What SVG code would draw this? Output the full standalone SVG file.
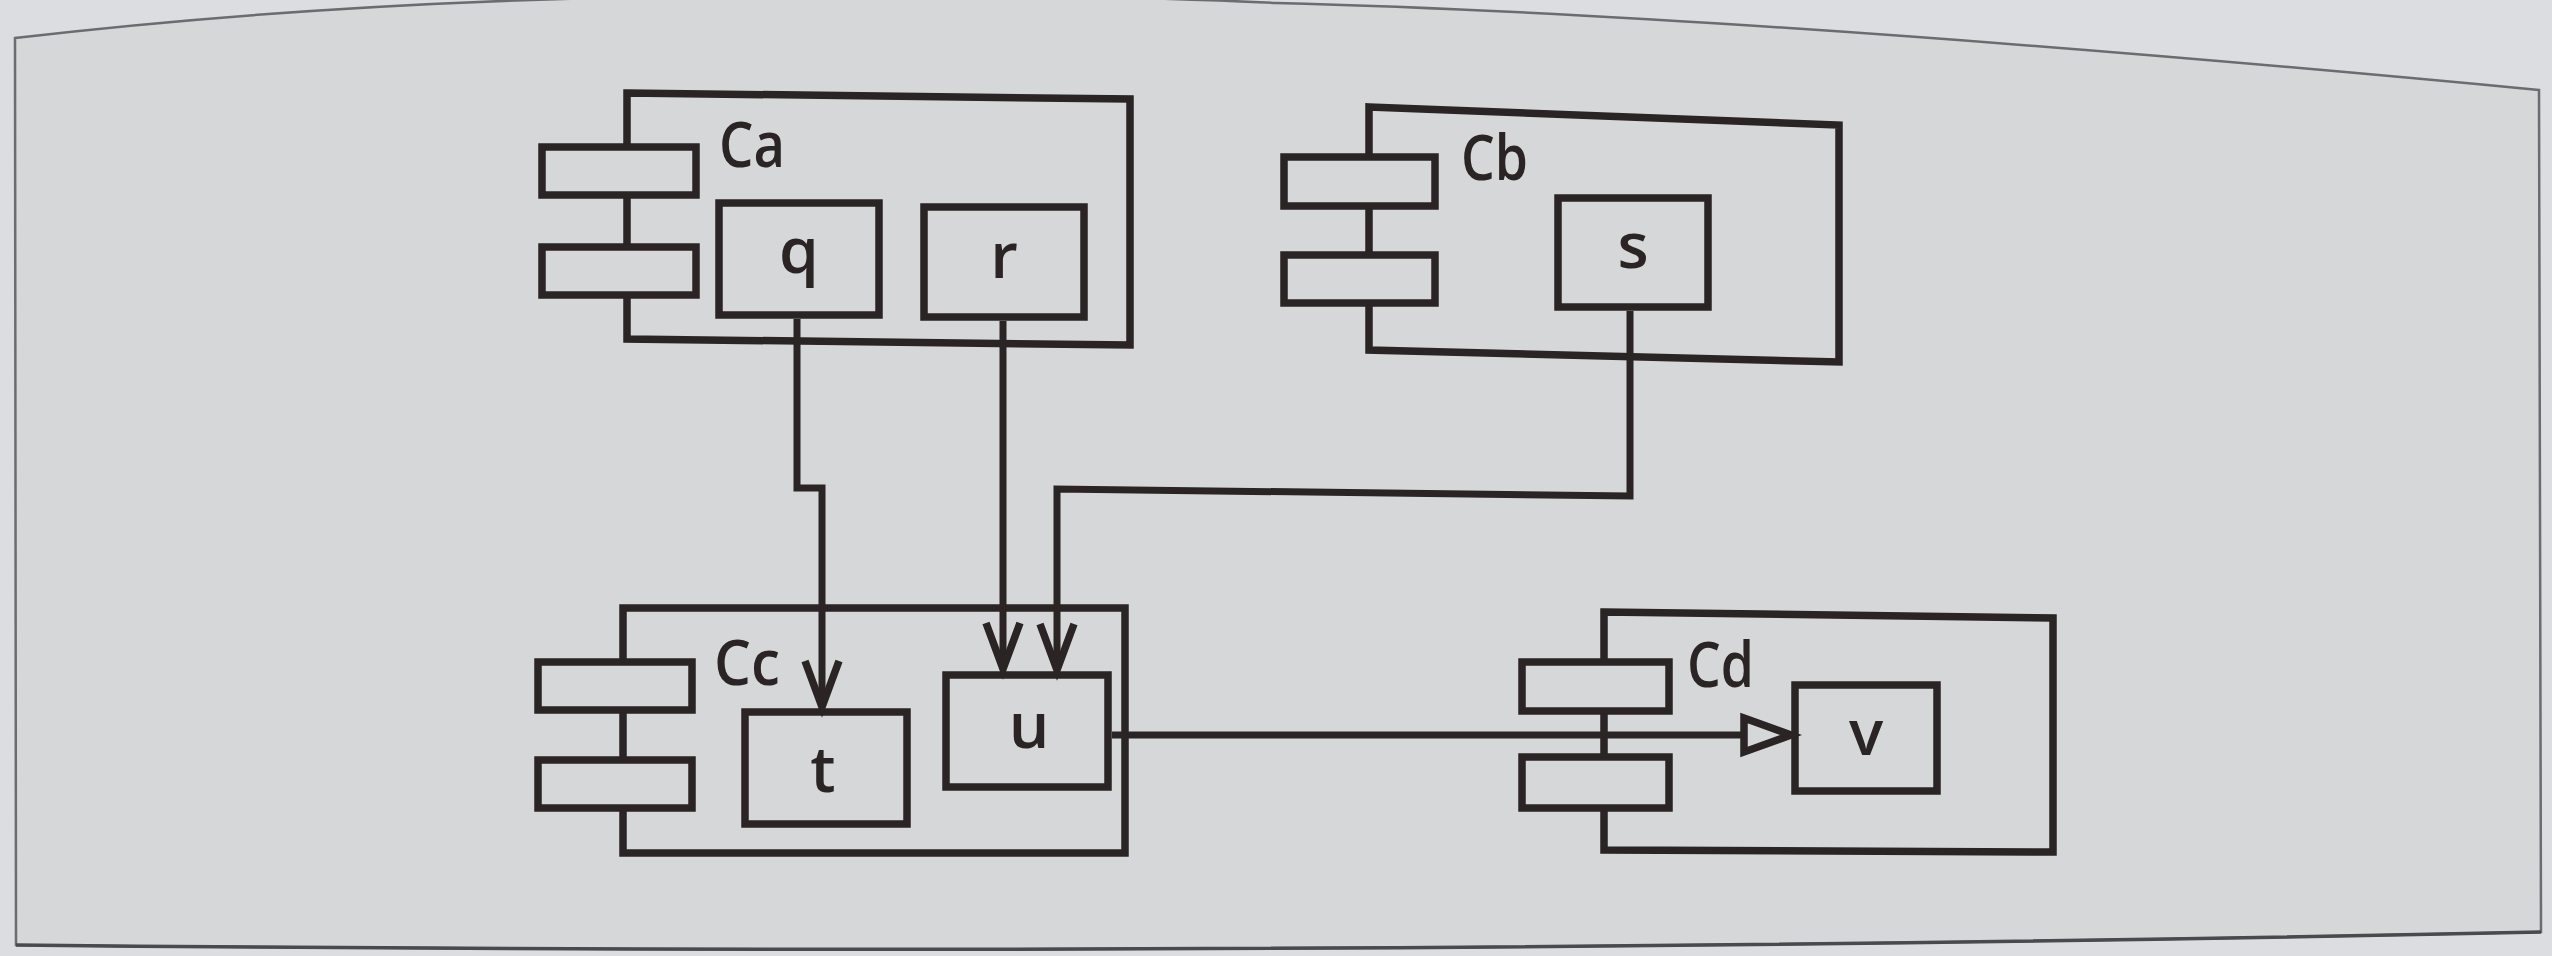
<svg xmlns="http://www.w3.org/2000/svg" width="2552" height="956" viewBox="0 0 2552 956">
  <style>
    .box { fill: none; stroke: #2a2424; stroke-width: 7.5; stroke-linejoin: miter; }
    .port { fill: #d6d7d9; stroke: #2a2424; stroke-width: 7.5; }
    .conn { fill: none; stroke: #2a2424; stroke-width: 7; stroke-linejoin: miter; }
    .name { font-family: "Open Sans", "Noto Sans", "Liberation Sans", sans-serif; font-size: 63px; font-weight: 600; fill: #2a2424; }
    .lbl { font-family: "Open Sans", "Noto Sans", "Liberation Sans", sans-serif; font-size: 64px; font-weight: 600; fill: #2a2424; text-anchor: middle; }
  </style>
  <defs>
    <marker id="open" markerUnits="userSpaceOnUse" viewBox="-55 -25 60 50" markerWidth="60" markerHeight="50" refX="0" refY="0" orient="auto" overflow="visible">
      <path d="M -46 -17 L 0 0 L -46 17" fill="none" stroke="#2a2424" stroke-width="7.5" stroke-linejoin="miter"/>
    </marker>
    <marker id="tri" markerUnits="userSpaceOnUse" viewBox="-55 -25 60 50" markerWidth="60" markerHeight="50" refX="0" refY="0" orient="auto" overflow="visible">
      <path d="M -47 -17 L 0 0 L -47 17 Z" fill="#d6d7d9" stroke="#2a2424" stroke-width="7.5" stroke-linejoin="miter"/>
    </marker>
  </defs>

  <rect x="0" y="0" width="2552" height="956" fill="#dcdde0"/>
  <path d="M 15 38 Q 300 5 600 -2 Q 1000 -10 1276 3 Q 1750 15 2539 90 L 2541 932 Q 1300 958 16 945 Z" fill="#d6d7d9" stroke="#6b6b70" stroke-width="2.5"/>
  <path d="M 2541 932 Q 1300 958 16 945" fill="none" stroke="#4a4a4e" stroke-width="3.5"/>

  <g id="Ca">
    <path class="box" d="M 627 93 L 1130 99 L 1130 345 L 627 339 Z"/>
    <rect class="port" x="542" y="147" width="154" height="48"/>
    <rect class="port" x="542" y="247" width="154" height="48"/>
    <text class="name" x="719" y="167" textLength="66" lengthAdjust="spacingAndGlyphs">Ca</text>
  </g>
  <g id="q">
    <rect class="box" x="719" y="203" width="160" height="112"/>
    <text class="lbl" x="799" y="273">q</text>
  </g>
  <g id="r">
    <rect class="box" x="924" y="207" width="160" height="110"/>
    <text class="lbl" x="1004" y="278">r</text>
  </g>

  <g id="Cb">
    <path class="box" d="M 1369 107 L 1839 125 L 1839 362 L 1369 350 Z"/>
    <rect class="port" x="1284" y="157" width="151" height="49"/>
    <rect class="port" x="1284" y="255" width="151" height="48"/>
    <text class="name" x="1461" y="180" textLength="67" lengthAdjust="spacingAndGlyphs">Cb</text>
  </g>
  <g id="s">
    <rect class="box" x="1558" y="198" width="150" height="109"/>
    <text class="lbl" x="1633" y="268">s</text>
  </g>

  <g id="Cc">
    <rect class="box" x="623" y="608" width="502" height="245"/>
    <rect class="port" x="538" y="662" width="154" height="48"/>
    <rect class="port" x="538" y="760" width="154" height="48"/>
    <text class="name" x="714" y="685" textLength="66" lengthAdjust="spacingAndGlyphs">Cc</text>
  </g>
  <g id="t">
    <rect class="box" x="745" y="712" width="162" height="112"/>
    <text class="lbl" x="823" y="792">t</text>
  </g>
  <g id="u">
    <rect class="box" x="946" y="675" width="162" height="112"/>
    <text class="lbl" x="1029" y="748">u</text>
  </g>

  <g id="Cd">
    <path class="box" d="M 1604 612 L 2053 618 L 2053 852 L 1604 850 Z"/>
    <rect class="port" x="1522" y="662" width="147" height="49"/>
    <rect class="port" x="1522" y="757" width="147" height="51"/>
    <text class="name" x="1687" y="687" textLength="67" lengthAdjust="spacingAndGlyphs">Cd</text>
  </g>
  <g id="v">
    <rect class="box" x="1795" y="685" width="142" height="106"/>
    <text class="lbl" x="1866" y="755">v</text>
  </g>

  <g id="connectors">
    <path class="conn" d="M 797 319 V 488 H 822 V 707" marker-end="url(#open)"/>
    <path class="conn" d="M 1003 321 V 669" marker-end="url(#open)"/>
    <path class="conn" d="M 1630 311 V 496 L 1057 489 V 670" marker-end="url(#open)"/>
    <path class="conn" d="M 1112 735 H 1791" marker-end="url(#tri)"/>
  </g>
</svg>
